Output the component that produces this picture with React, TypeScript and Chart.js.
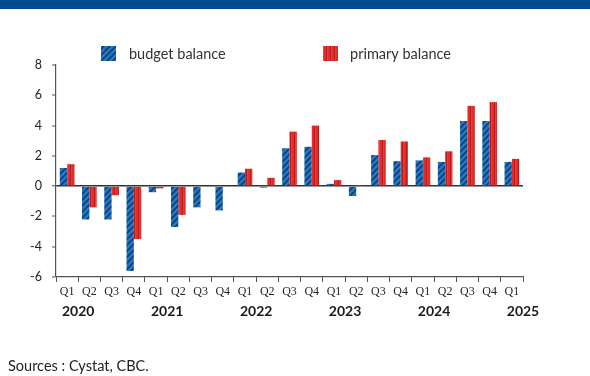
import { useEffect, useRef } from "react";
import { Chart, registerables } from "chart.js";

Chart.register(...registerables);

const quarters = ["Q1","Q2","Q3","Q4","Q1","Q2","Q3","Q4","Q1","Q2","Q3","Q4","Q1","Q2","Q3","Q4","Q1","Q2","Q3","Q4","Q1"];
const years = ["2020","2021","2022","2023","2024","2025"];
const budgetBalance = [1.2,-2.2,-2.2,-5.6,-0.4,-2.7,-1.4,-1.6,0.9,-0.1,2.5,2.6,0.15,-0.65,2.05,1.65,1.7,1.6,4.3,4.3,1.6];
const primaryBalance = [1.45,-1.4,-0.6,-3.5,-0.15,-1.9,0.05,0.05,1.15,0.55,3.6,4.0,0.4,0.02,3.05,2.95,1.9,2.3,5.3,5.55,1.8];
const yTicks = [-6,-4,-2,0,2,4,6,8];
const legendLabels = ["budget balance","primary balance"];

function bluePattern(ctx: CanvasRenderingContext2D) {
  const c = document.createElement("canvas");
  c.width = 6; c.height = 6;
  const g = c.getContext("2d")!;
  g.fillStyle = "#2179cc";
  g.fillRect(0,0,6,6);
  g.strokeStyle = "#123e6e";
  g.lineWidth = 1.6;
  g.beginPath();
  g.moveTo(-1,7); g.lineTo(7,-1);
  g.moveTo(-4,4); g.lineTo(4,-4);
  g.moveTo(2,10); g.lineTo(10,2);
  g.stroke();
  return ctx.createPattern(c,"repeat")!;
}
function redPattern(ctx: CanvasRenderingContext2D) {
  const c = document.createElement("canvas");
  c.width = 4; c.height = 1;
  const g = c.getContext("2d")!;
  const cols = ["#e62b2b","#e62b2b","#b81a1a","#ee3a3a"];
  cols.forEach((col,i)=>{ g.fillStyle = col; g.fillRect(i,0,1,1); });
  return ctx.createPattern(c,"repeat")!;
}

export default function App() {
  const ref = useRef<HTMLCanvasElement>(null);
  useEffect(() => {
    const canvas = ref.current!;
    const ctx = canvas.getContext("2d")!;
    const bp = bluePattern(ctx);
    const rp = redPattern(ctx);
    const extras = {
      id: "extras",
      afterDraw(chart: any) {
        const c = chart.ctx;
        const xs = chart.scales.x;
        c.save();
        c.fillStyle = "#1a1a1a";
        c.font = "bold 14px Lato";
        c.textAlign = "center";
        c.textBaseline = "middle";
        const step = xs.getPixelForValue(1) - xs.getPixelForValue(0);
        years.forEach((y, i) => {
          const x = xs.getPixelForValue(4 * i) + step / 2;
          c.fillText(y, x, 311);
        });
        // legend
        const items = [
          { x: 101, tx: 129, fill: bp, label: legendLabels[0] },
          { x: 323, tx: 350, fill: rp, label: legendLabels[1] },
        ];
        c.font = "14.5px Lato";
        c.textAlign = "left";
        items.forEach(it => {
          c.fillStyle = it.fill;
          c.fillRect(it.x, 46, 15, 15);
          c.fillStyle = "#333";
          c.fillText(it.label, it.tx, 54);
        });
        c.restore();
      },
    };
    const chart = new Chart(canvas, {
      type: "bar",
      data: {
        labels: quarters,
        datasets: [
          { label: legendLabels[0], data: budgetBalance, backgroundColor: bp, borderWidth: 0, categoryPercentage: 0.66, barPercentage: 1 },
          { label: legendLabels[1], data: primaryBalance, backgroundColor: rp, borderWidth: 0, categoryPercentage: 0.66, barPercentage: 1 },
        ],
      },
      options: {
        animation: false,
        responsive: false,
        layout: { padding: { top: 65, right: 67, bottom: 0, left: 0 } },
        plugins: { legend: { display: false }, tooltip: { enabled: false } },
        scales: {
          x: {
            grid: { drawOnChartArea: false, drawTicks: true, tickLength: 5, color: "#555", offset: true },
            border: { color: "#555", width: 1.2 },
            ticks: { color: "#222", font: { family: "Liberation Sans Narrow", size: 12 }, padding: 3, maxRotation: 0, autoSkip: false },
            afterFit: (s: any) => { s.height = 99; },
          },
          y: {
            min: -6, max: 8,
            afterBuildTicks: (s: any) => { s.ticks = yTicks.map(v => ({ value: v })); },
            grid: {
              drawTicks: true, tickLength: 4,
              color: (c: any) => (c.tick && c.tick.value === 0 ? "#333" : "rgba(0,0,0,0)"),
              lineWidth: (c: any) => (c.tick && c.tick.value === 0 ? 1.5 : 0),
              tickColor: "#555", tickWidth: 1,
            },
            border: { color: "#555", width: 1.2 },
            ticks: { color: "#222", font: { family: "Lato", size: 12.5 }, padding: 10 },
            afterFit: (s: any) => { s.width = 56; },
          },
        },
      },
      plugins: [extras],
    });
    return () => chart.destroy();
  }, []);
  return (
    <div style={{ position: "absolute", left: 0, top: 0, width: 590, height: 376, background: "#fff", overflow: "hidden" }}>
      <div style={{ position: "absolute", left: 0, top: 0, width: 590, height: 9, background: "#004b8f" }} />
      <canvas ref={ref} width={590} height={376} style={{ position: "absolute", left: 0, top: 0 }} />
      <div style={{ position: "absolute", left: 8, top: 357, font: "14.5px Lato", color: "#222", whiteSpace: "nowrap" }}>Sources : Cystat, CBC.</div>
    </div>
  );
}
